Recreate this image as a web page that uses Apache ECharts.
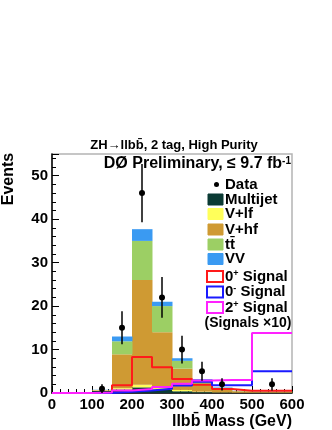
<!DOCTYPE html>
<html>
<head>
<meta charset="utf-8">
<script src="https://cdn.jsdelivr.net/npm/echarts@6/dist/echarts.min.js"></script>
<style>
  html, body { margin: 0; padding: 0; background: #fff; }
  #main { width: 332px; height: 430px; }
</style>
</head>
<body>
<div id="main"></div>
<script>
// bin edges (GeV), last bin is 100 GeV wide
const binEdges = [0, 50, 100, 150, 200, 250, 300, 350, 400, 450, 500, 600]
// backgrounds, events per bin
const multijet = [0, 0, 0.5, 0.8, 1.3, 0.8, 0.4, 0.2, 0.1, 0.05, 0.05]
const vlf = [0, 0, 0.1, 0.3, 0.6, 0.3, 0.3, 0.1, 0.05, 0, 0]
const vhf = [0, 0, 0.1, 7.8, 24.1, 12.9, 4.9, 1.6, 0.95, 0.35, 0.25]
const ttbar = [0, 0, 0, 3.0, 9.0, 6.0, 1.8, 1.0, 0.1, 0.05, 0.05]
const vv = [0, 0, 0.05, 1.1, 2.7, 1.0, 0.6, 0.3, 0.1, 0.05, 0.05]
// signals (x10)
const sig0p = [0, 0, 0, 1.8, 8.3, 5.9, 3.2, 1.9, 0.9, 0.5, 0.5]
const sig0m = [0, 0, 0, 0.3, 0.6, 1.0, 1.7, 2.6, 1.8, 1.8, 5.0]
const sig2p = [0, 0, 0.1, 0.6, 0.9, 1.4, 2.1, 2.9, 3.0, 3.0, 13.8]
// data points
const dataX = [125, 175, 225, 275, 325, 375, 425, 550]
const dataY = [1, 15, 46, 22, 10, 5, 2, 2]
const dataErr = [1, 3.8, 6.7, 4.7, 3.2, 2.2, 1.4, 1.4]

const FONT = 'Liberation Sans'
const colors = {
  multijet: '#0b3b34',
  vlf: '#ffff5a',
  vhf: '#cf9a33',
  ttbar: '#9ccf64',
  vv: '#3a9af2',
  sig0p: '#ff1a1a',
  sig0m: '#1a1aff',
  sig2p: '#ff22ff'
}

// stack the backgrounds: rows of [x0, x1, base, top]
const stackOrder = [
  ['multijet', multijet],
  ['vlf', vlf],
  ['vhf', vhf],
  ['ttbar', ttbar],
  ['vv', vv]
]
const running = binEdges.slice(1).map(() => 0)
const stackSeries = stackOrder.map(([key, vals]) => {
  const rows = vals.map((v, i) => {
    const base = running[i]
    running[i] = base + v
    return [binEdges[i], binEdges[i + 1], base, base + v]
  })
  return {
    type: 'custom',
    name: key,
    coordinateSystem: 'cartesian2d',
    encode: { x: [0, 1], y: [2, 3] },
    renderItem: function (params, api) {
      const p0 = api.coord([api.value(0), api.value(3)])
      const p1 = api.coord([api.value(1), api.value(2)])
      return {
        type: 'rect',
        shape: { x: p0[0], y: p0[1], width: p1[0] - p0[0] + 0.5, height: p1[1] - p0[1] },
        style: { fill: colors[key] }
      }
    },
    data: rows,
    z: 2
  }
})

// step outline for a histogram
function stepLine (key, vals) {
  const pts = vals.map((v, i) => [binEdges[i], v])
  pts.push([binEdges[binEdges.length - 1], vals[vals.length - 1]])
  return {
    type: 'line',
    name: key,
    step: 'end',
    symbol: 'none',
    lineStyle: { color: colors[key], width: 2 },
    data: pts,
    z: 3
  }
}

const dataSeries = {
  type: 'custom',
  name: 'Data',
  coordinateSystem: 'cartesian2d',
  encode: { x: 0, y: 1 },
  renderItem: function (params, api) {
    const x = api.value(0)
    const y = api.value(1)
    const e = api.value(2)
    const c = api.coord([x, y])
    const lo = api.coord([x, y - e])
    const hi = api.coord([x, y + e])
    return {
      type: 'group',
      children: [
        { type: 'line', shape: { x1: lo[0], y1: lo[1], x2: hi[0], y2: hi[1] }, style: { stroke: '#000', lineWidth: 1.5 } },
        { type: 'circle', shape: { cx: c[0], cy: c[1], r: 3 }, style: { fill: '#000' } }
      ]
    }
  },
  data: dataX.map((x, i) => [x, dataY[i], dataErr[i]]),
  z: 4
}

// legend (drawn by hand, ROOT style)
const legendRows = [
  { label: 'Data', kind: 'dot', y: 184.5 },
  { label: 'Multijet', kind: 'fill', key: 'multijet', y: 199.5 },
  { label: 'V+lf', kind: 'fill', key: 'vlf', y: 214 },
  { label: 'V+hf', kind: 'fill', key: 'vhf', y: 229.5 },
  { label: 'tt\u0304', kind: 'fill', key: 'ttbar', y: 244.5 },
  { label: 'VV', kind: 'fill', key: 'vv', y: 259 },
  { label: '0{sup|+} Signal', kind: 'line', key: 'sig0p', y: 276.5 },
  { label: '0{sup|-} Signal', kind: 'line', key: 'sig0m', y: 292 },
  { label: '2{sup|+} Signal', kind: 'line', key: 'sig2p', y: 307.5 }
]
const supStyle = { fontFamily: FONT, fontWeight: 'bold', fontSize: 9, verticalAlign: 'top', fill: '#000' }
const legendGraphics = []
legendRows.forEach(r => {
  if (r.kind === 'dot') {
    legendGraphics.push({ type: 'circle', shape: { cx: 216.5, cy: r.y, r: 2.5 }, style: { fill: '#000' } })
  } else if (r.kind === 'fill') {
    legendGraphics.push({ type: 'rect', shape: { x: 208, y: r.y - 5.5, width: 15, height: 11 }, style: { fill: colors[r.key], stroke: colors[r.key], lineWidth: 1 } })
  } else {
    legendGraphics.push({ type: 'rect', shape: { x: 207, y: r.y - 5.5, width: 16, height: 11 }, style: { fill: '#fff', stroke: colors[r.key], lineWidth: 2 } })
  }
  legendGraphics.push({
    type: 'text',
    style: {
      x: 225, y: r.y, text: r.label, fill: '#000',
      font: 'bold 15px "' + FONT + '"', align: 'left', verticalAlign: 'middle',
      rich: { sup: supStyle }
    }
  })
})

const chart = echarts.init(document.getElementById('main'))
chart.setOption({
  animation: false,
  backgroundColor: '#fff',
  grid: {
    left: 52, right: 40, top: 154, bottom: 37,
    show: true, borderColor: '#b4b4b4', borderWidth: 1.5, backgroundColor: 'transparent'
  },
  xAxis: {
    type: 'value', min: 0, max: 600, interval: 100,
    axisLine: { lineStyle: { color: '#000', width: 1.5 } },
    axisTick: { inside: true, length: 7, lineStyle: { color: '#000' } },
    minorTick: { show: true, splitNumber: 5, length: 4, lineStyle: { color: '#000' } },
    splitLine: { show: false },
    axisLabel: { color: '#000', fontFamily: FONT, fontWeight: 'bold', fontSize: 15, margin: 4 }
  },
  yAxis: [
    {
      type: 'value', min: 0, max: 55, interval: 10, position: 'left',
      axisLine: { show: true, lineStyle: { color: '#000', width: 1.5 } },
      axisTick: { show: true, inside: true, length: 7, lineStyle: { color: '#000' } },
      splitLine: { show: false },
      axisLabel: {
        color: '#000', fontFamily: FONT, fontWeight: 'bold', fontSize: 15, margin: 4,
        formatter: v => (v % 10 === 0 ? String(v) : '')
      }
    },
    {
      type: 'value', min: 0, max: 55, interval: 2, position: 'left',
      axisLine: { show: false },
      axisTick: { show: true, inside: true, length: 4, lineStyle: { color: '#000' } },
      splitLine: { show: false },
      axisLabel: { show: false }
    }
  ],
  series: [
    ...stackSeries,
    stepLine('sig0p', sig0p),
    stepLine('sig0m', sig0m),
    stepLine('sig2p', sig2p),
    dataSeries
  ],
  graphic: [
    {
      type: 'text',
      style: {
        x: 174, y: 145, text: 'ZH\u2192llbb\u0304, 2 tag, High Purity', fill: '#000',
        font: 'bold 13px "' + FONT + '"', align: 'center', verticalAlign: 'middle'
      }
    },
    {
      type: 'text',
      style: {
        x: 291, y: 164, text: 'D\u00d8 Preliminary, \u2264 9.7 fb{sup|-1}', fill: '#000',
        font: 'bold 16px "' + FONT + '"', align: 'right', verticalAlign: 'middle',
        rich: { sup: { fontFamily: FONT, fontWeight: 'bold', fontSize: 10, verticalAlign: 'top', fill: '#000' } }
      }
    },
    ...legendGraphics,
    {
      type: 'text',
      style: {
        x: 248, y: 323.5, text: '(Signals \u00d710)', fill: '#000',
        font: 'bold 14px "' + FONT + '"', align: 'center', verticalAlign: 'middle'
      }
    },
    {
      type: 'text',
      style: {
        x: 292, y: 421.5, text: 'llbb\u0304 Mass (GeV)', fill: '#000',
        font: 'bold 16px "' + FONT + '"', align: 'right', verticalAlign: 'middle'
      }
    },
    {
      type: 'text',
      rotation: Math.PI / 2,
      x: 9, y: 179,
      style: {
        x: 0, y: 0, text: 'Events', fill: '#000',
        font: 'bold 16px "' + FONT + '"', align: 'center', verticalAlign: 'middle'
      }
    }
  ]
})
</script>
</body>
</html>
